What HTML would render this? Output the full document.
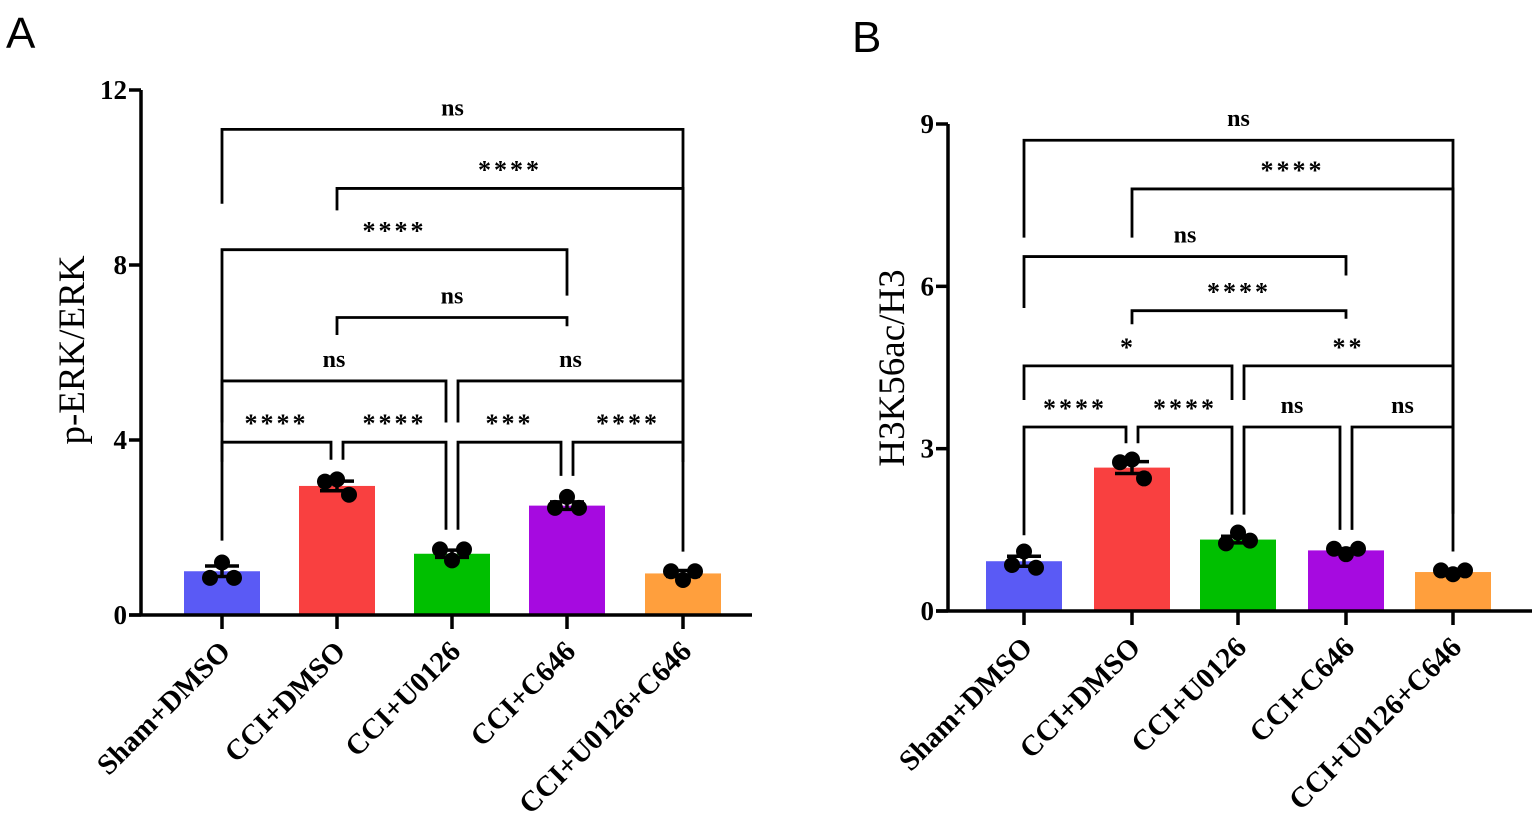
<!DOCTYPE html>
<html><head><meta charset="utf-8"><style>
body{margin:0;background:#fff;}
svg{display:block;font-family:"Liberation Serif",serif;}
</style></head><body>
<svg id="fig" width="1536" height="829" viewBox="0 0 1536 829">
<text x="6" y="48" font-family="Liberation Sans,sans-serif" font-size="44">A</text>
<text x="852" y="52" font-family="Liberation Sans,sans-serif" font-size="44">B</text>
</svg>
<script>
const categories = ["Sham+DMSO","CCI+DMSO","CCI+U0126","CCI+C646","CCI+U0126+C646"];
const colors = ["#5a5af5","#f94040","#00bf00","#a60ae0","#ff9f3d"];
const meansA = [1.0, 2.95, 1.4, 2.5, 0.95];
const pointsA = [[1.2,0.85,0.85],[3.1,3.05,2.75],[1.25,1.5,1.5],[2.7,2.45,2.45],[0.8,1.0,1.0]];
const ticksA = [0,4,8,12];
const meansB = [0.92, 2.65, 1.32, 1.12, 0.72];
const pointsB = [[1.1,0.85,0.8],[2.8,2.75,2.45],[1.45,1.25,1.3],[1.05,1.15,1.15],[0.68,0.75,0.75]];
const ticksB = [0,3,6,9];
// brackets: [from, to, level, label, leftLegBottom, rightLegBottom]
const bracketsA = [
 [0,4,11.1,"ns",9.4,3.5],[1,4,9.75,"****",9.25,3.5],[0,3,8.35,"****",3.5,7.3],
 [1,3,6.8,"ns",6.4,6.6],[0,2,5.35,"ns",4.4,4.4],[2,4,5.35,"ns",4.4,3.5],
 [0,1,3.95,"****",1.7,3.55],[1,2,3.95,"****",3.55,1.95],[2,3,3.95,"***",1.95,3.18],[3,4,3.95,"****",3.18,1.45]];
const bracketsB = [
 [0,4,8.7,"ns",6.9,1.8],[1,4,7.8,"****",6.9,1.8],[0,3,6.55,"ns",5.6,6.2],
 [1,3,5.55,"****",5.3,5.4],[0,2,4.53,"*",3.9,3.9],[2,4,4.53,"**",3.9,1.8],
 [0,1,3.4,"****",1.4,3.1],[1,2,3.4,"****",3.1,1.78],[2,3,3.4,"ns",1.78,1.5],[3,4,3.4,"ns",1.5,1.1]];
const NS="http://www.w3.org/2000/svg";
const svg=document.getElementById('fig');
function mk(tag,attrs,parent){const e=document.createElementNS(NS,tag);for(const k in attrs)e.setAttribute(k,attrs[k]);(parent||svg).appendChild(e);return e;}
function panel(p){
 const g=mk('g',{});
 
 
 const y=v=>p.y0-(v/p.ymax)*(p.y0-p.ytop);
 const xc=i=>p.xs[i];
 p.means.forEach((m,i)=>{
  const r=mk('rect',{x:xc(i)-38,y:y(m),width:76,height:p.y0-y(m),fill:colors[i]},g);
  
  
  const pts=p.points[i];const n=pts.length;const sd=Math.sqrt(pts.reduce((s,v)=>s+(v-m)*(v-m),0)/(n-1));const se=sd/Math.sqrt(n);
  const eb=mk('g',{stroke:'#000','stroke-width':3.5},g);
  
  
  mk('line',{x1:xc(i),x2:xc(i),y1:y(m+se),y2:y(m-se)},eb);
  mk('line',{x1:xc(i)-17,x2:xc(i)+17,y1:y(m+se),y2:y(m+se)},eb);
  mk('line',{x1:xc(i)-17,x2:xc(i)+17,y1:y(m-se),y2:y(m-se)},eb);
  const offs=[0,-12,12];
  pts.forEach((v,k)=>{const c=mk('circle',{cx:xc(i)+offs[k],cy:y(v),r:8,fill:'#000'},g);
   
   });
 });
 const ax=mk('g',{stroke:'#000','stroke-width':3.5},g);
 
 
 mk('line',{x1:p.xa,x2:p.xa,y1:p.ytop,y2:p.y0},ax);
 mk('line',{x1:p.xa-12,x2:p.xend,y1:p.y0,y2:p.y0},ax);
 p.ticks.forEach(t=>{mk('line',{x1:p.xa-12,x2:p.xa,y1:y(t),y2:y(t)},ax);
  const tl=mk('text',{x:p.xa-14,y:y(t)+9,'text-anchor':'end','font-size':27,'font-weight':'bold',stroke:'none'},g);tl.textContent=t;
  
  });
 categories.forEach((c,i)=>{mk('line',{x1:xc(i),x2:xc(i),y1:p.y0,y2:p.y0+14},ax);
  const tx=mk('text',{x:xc(i)+10,y:p.y0+38,'text-anchor':'end','font-size':29,'font-weight':'bold',transform:`rotate(-45 ${xc(i)+10} ${p.y0+38})`},g);tx.textContent=c;
  
  });
 const yt=mk('text',{x:p.titleX,y:p.titleY,'text-anchor':'middle','font-size':37,transform:`rotate(-90 ${p.titleX} ${p.titleY})`},g);yt.textContent=p.title;
 
 
 p.brackets.forEach(b=>{
  const [a,c,lv,lab,lb,rb]=b;
  let x1=xc(a),x2=xc(c);
  if(p.brackets.some(o=>o!==b&&o[2]===lv&&o[1]===a))x1+=6;
  if(p.brackets.some(o=>o!==b&&o[2]===lv&&o[0]===c))x2-=6;
  const bg=mk('g',{},g);
  
  
  mk('path',{d:`M${x1} ${y(lb)}V${y(lv)}H${x2}V${y(rb)}`,fill:'none',stroke:'#000','stroke-width':2.8},bg);
  const star=lab.includes('*');
  const t=mk('text',{x:(x1+x2)/2,y:y(lv)-(star?10:14),'text-anchor':'middle','font-size':star?26:24,'font-weight':'bold','letter-spacing':star?3:0},bg);t.textContent=lab;
 });
}
panel({id:'panel-a',xs:[222,337,452,567,683],xa:141,xend:752,y0:615,ytop:90,ymax:12,means:meansA,points:pointsA,ticks:ticksA,brackets:bracketsA,title:'p-ERK/ERK',titleX:84,titleY:350});
panel({id:'panel-b',xs:[1024,1132,1238,1346,1453],xa:948,xend:1532,y0:611,ytop:124,ymax:9,means:meansB,points:pointsB,ticks:ticksB,brackets:bracketsB,title:'H3K56ac/H3',titleX:904,titleY:368});
</script>
</body></html>
